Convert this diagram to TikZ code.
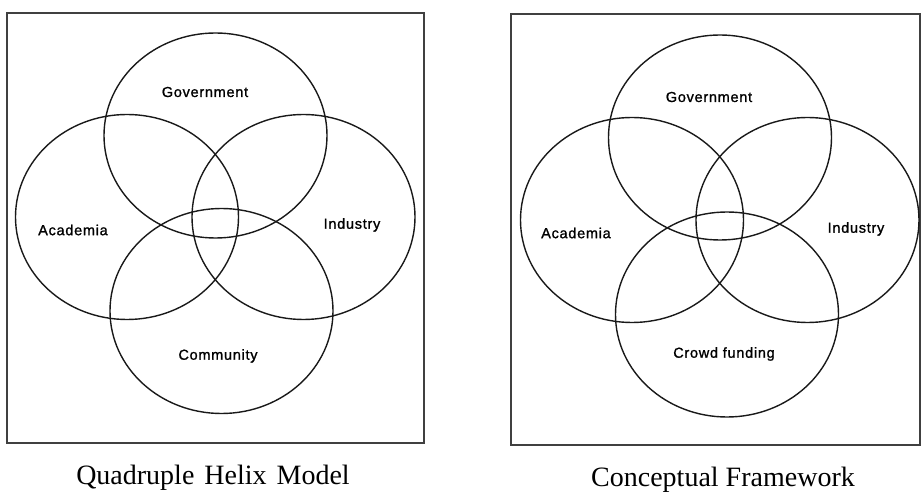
\documentclass[tikz,border=0pt]{standalone}
\usepackage{fontspec}
\setmainfont{Liberation Serif}
\newfontfamily\labelfont[LetterSpace=5,FakeBold=1.2]{Liberation Sans}
\usetikzlibrary{shapes.geometric}
\begin{document}
\begin{tikzpicture}[x=1pt,y=-1pt,
  frame/.style={draw=black!75,line width=1.8pt},
  sector/.style={draw=black!90,line width=1.4pt,ellipse,inner sep=0pt,
    minimum width=223pt,minimum height=205pt},
  sectorlabel/.style={font=\labelfont\fontsize{14.5}{16}\selectfont,inner sep=0pt},
  caption/.style={font=\fontsize{28}{30}\selectfont,anchor=base,inner sep=0pt}]
\useasboundingbox (0,0) rectangle (922,494);

% Quadruple Helix Model
\draw[frame] (7,13) rectangle (424,443);
\node[sector] (qgov)  at (215.5,135.5) {};
\node[sector] (qacad) at (127,217) {};
\node[sector] (qind)  at (303.5,217) {};
\node[sector] (qcom)  at (221.5,311) {};
\node[sectorlabel] (qgovl)  at (205,92)  {Government};
\node[sectorlabel] (qacadl) at (73,230)  {Academia};
\node[sectorlabel] (qindl)  at (352,225) {Industry};
\node[sectorlabel] (qcoml)  at (218,356) {Community};
\node[caption] (qtitle) at (213,485) {Quadruple\hspace{3pt} Helix\hspace{3pt} Model};

% Conceptual Framework
\draw[frame] (511,14) rectangle (920,445);
\node[sector] (cgov)  at (720,137.5) {};
\node[sector] (cacad) at (632,220) {};
\node[sector] (cind)  at (807.5,220) {};
\node[sector] (ccrowd) at (727,314.5) {};
\node[sectorlabel] (cgovl)  at (709,97)  {Government};
\node[sectorlabel] (cacadl) at (576,233) {Academia};
\node[sectorlabel] (cindl)  at (856,229) {Industry};
\node[sectorlabel] (ccrowdl) at (724,354) {Crowd funding};
\node[caption] (ctitle) at (723,486) {Conceptual Framework};
\end{tikzpicture}
\end{document}
